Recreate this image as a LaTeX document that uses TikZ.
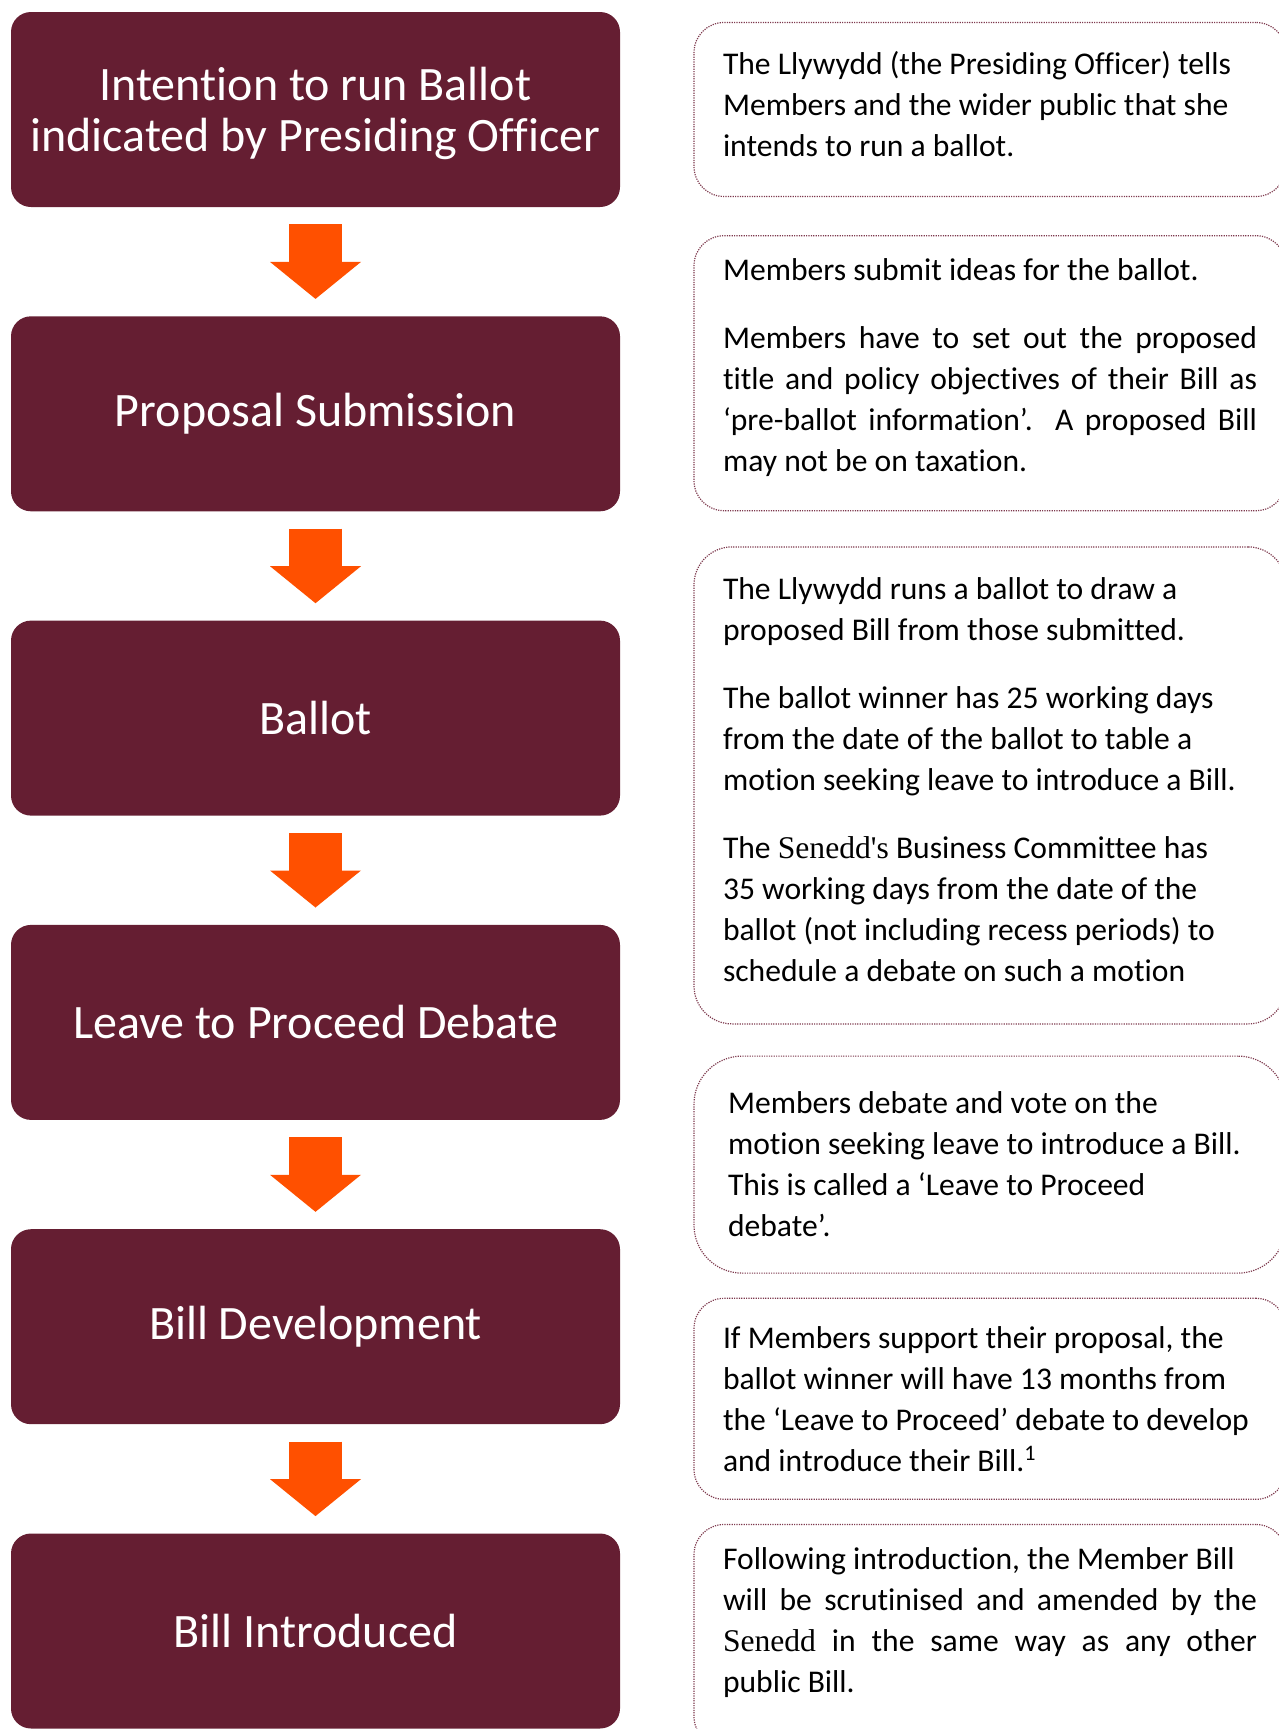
\documentclass[tikz,border=0pt]{standalone}
\usepackage{fontspec}
\setmainfont{Carlito}[Ligatures=NoCommon]
\newfontfamily\seneddfont{Liberation Serif}
\usepackage{xcolor}
\definecolor{senedd}{HTML}{651E32}
\definecolor{flowor}{HTML}{FF5000}
\definecolor{dotline}{HTML}{7E3A4E}
\usetikzlibrary{arrows.meta, positioning}

\begin{document}
\begin{tikzpicture}[
	stage/.style={rectangle, fill=senedd, rounded corners=10pt, minimum width=304.5pt,
		minimum height=97.5pt, inner sep=0pt, align=center, text=white,
		font=\fontsize{24}{25.5}\selectfont},
	info/.style={rectangle, draw=dotline, line width=0.6pt, dash pattern=on 0.6pt off 0.6pt,
		rounded corners=15pt, text width=267pt, inner xsep=14.5pt, inner ysep=0pt,
		align=flush left, font=\fontsize{15.8}{20.5}\selectfont},
	flow/.style={draw=flowor, line width=26.5pt,
		-{Triangle[length=18.5pt, width=45.5pt, line width=0pt]},
		shorten <=8.5pt, shorten >=8.5pt},
	]
	\useasboundingbox (0,0) rectangle (639.5pt,-864.5pt);
	
	% Stages
	\node[stage, text depth=0pt] (po) at (157.75pt,-54.75pt) {Intention to run Ballot\\indicated by Presiding Officer};
	\node[stage, below=54.25pt of po] (sub) {Proposal Submission};
	\node[stage, below=54.25pt of sub] (bal) {Ballot};
	\node[stage, below=54.25pt of bal] (ltp) {Leave to Proceed Debate};
	\node[stage, below=54.25pt of ltp] (dev) {Bill Development};
	\node[stage, below=54.25pt of dev] (intro) {Bill Introduced};
	
	% Arrows
	\draw[flow] (po) -- (sub);
	\draw[flow] (sub) -- (bal);
	\draw[flow] (bal) -- (ltp);
	\draw[flow] (ltp) -- (dev);
	\draw[flow] (dev) -- (intro);
	
	% Notes (struts at the end lift the text a little)
	\node[info, minimum height=87pt, right=36.5pt of po] (poinfo)
	{The Llywydd (the Presiding Officer) tells\\Members and the wider public that she\\intends to run a ballot.\rule[-5.5pt]{0pt}{0pt}};
	
	\node[info, minimum height=137.5pt, align=justify, below=19pt of poinfo] (subinfo)
	{Members submit ideas for the ballot.\\[13.5pt]
		Members have to set out the proposed\linebreak
		title and policy objectives of their Bill as\linebreak
		‘pre-ballot information’. A proposed Bill\linebreak
		may not be on taxation.\rule[-7.8pt]{0pt}{0pt}};
	
	\node[info, minimum height=238.5pt, rounded corners=19pt, below=17.5pt of subinfo] (balinfo)
	{The Llywydd runs a ballot to draw a\\proposed Bill from those submitted.\\[13.5pt]
		The ballot winner has 25 working days\\from the date of the ballot to table a\\motion seeking leave to introduce a Bill.\\[13.5pt]
		The {\seneddfont Senedd's} Business Committee has\\35 working days from the date of the\\ballot (not including recess periods) to\\schedule a debate on such a motion\rule[-6pt]{0pt}{0pt}};
	
	\node[info, minimum height=108.5pt, rounded corners=24pt, text width=262pt, inner xsep=17pt,
		below=15.5pt of balinfo] (ltpinfo)
	{Members debate and vote on the\\motion seeking leave to introduce a Bill.\\This is called a ‘Leave to Proceed\\debate’.};
	
	\node[info, minimum height=100.5pt, below=12pt of ltpinfo] (devinfo)
	{If Members support their proposal, the\\ballot winner will have 13 months from\\the ‘Leave to Proceed’ debate to develop\\and introduce their Bill.\textsuperscript{1}};
	
	\node[info, minimum height=111pt, align=justify, below=12pt of devinfo] (introinfo)
	{Following introduction, the Member Bill\\
		will be scrutinised and amended by the\linebreak
		{\seneddfont Senedd} in the same way as any other\linebreak
		public Bill.\rule[-15.4pt]{0pt}{0pt}};
\end{tikzpicture}
\end{document}
